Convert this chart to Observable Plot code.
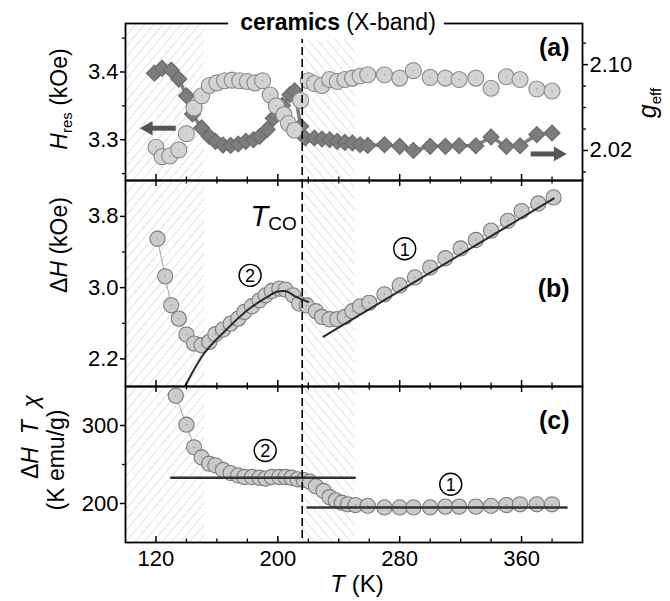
<!DOCTYPE html>
<html>
<head>
<meta charset="utf-8">
<script src="https://cdn.jsdelivr.net/npm/d3@7"></script>
<script src="https://cdn.jsdelivr.net/npm/@observablehq/plot@0.6"></script>
<style>
  html, body { margin: 0; padding: 0; background: #fff; }
  #chart { position: relative; width: 670px; height: 601px; overflow: hidden; background: #fff;
           font-family: "Liberation Sans", Arial, Helvetica, sans-serif; }
  #chart svg { overflow: visible; }
</style>
</head>
<body>
<svg width="0" height="0" style="position:absolute">
  <defs>
    <pattern id="hatchL" patternUnits="userSpaceOnUse" width="7" height="7" patternTransform="rotate(40)">
      <line x1="0" y1="0" x2="0" y2="7" stroke="#c4c4c4" stroke-width="1"></line>
    </pattern>
    <pattern id="hatchR" patternUnits="userSpaceOnUse" width="7" height="7" patternTransform="rotate(-40)">
      <line x1="0" y1="0" x2="0" y2="7" stroke="#c4c4c4" stroke-width="1"></line>
    </pattern>
  </defs>
</svg>
<div id="chart"></div>
<script>
// ---------------- data ----------------
const X_DOMAIN = [100, 400];
const TCO = 216;
const hatchLow = [100, 152];
const hatchHigh = [216, 251];

// panel (a): resonance field H_res (kOe), circles
const T_res = [120,124,129,135,140,145,150,155,160,165,170,175,180,185,190,195,199,204,207,211,215,220,224,229,234,239,244,249,254,259,270,280,289,300,310,319,330,340,350,359,370,380];
const H_res = [3.289,3.275,3.276,3.285,3.309,3.347,3.365,3.380,3.384,3.387,3.388,3.387,3.386,3.384,3.387,3.366,3.350,3.337,3.324,3.314,3.358,3.387,3.383,3.380,3.389,3.386,3.389,3.391,3.394,3.396,3.396,3.391,3.402,3.392,3.391,3.389,3.391,3.376,3.393,3.389,3.375,3.372];
// panel (a): g_eff, diamonds (right axis)
const T_g = [119,124,130,135,140,144,150,155,159,164,169,174,179,184,188,193,197,203,208,211,215,218,224,229,234,239,244,249,254,259,270,280,289,300,310,319,330,340,350,359,370,380];
const g_eff = [2.092,2.0965,2.095,2.0865,2.071,2.054,2.041,2.033,2.0285,2.025,2.0247,2.026,2.0285,2.030,2.033,2.0395,2.050,2.062,2.072,2.0755,2.0426,2.0316,2.0316,2.0307,2.030,2.0285,2.0275,2.027,2.0253,2.0247,2.0253,2.0238,2.020,2.0238,2.0238,2.0244,2.0244,2.0326,2.0238,2.0244,2.0348,2.0363];

// panel (b): linewidth ΔH (kOe)
const T_dH = [121,126,130,135,140,145,150,155,159,164,169,174,178,183,188,192,196,201,205,210,214,219,225,229,234,239,244,249,254,260,270,280,290,300,310,320,330,340,351,360,371,381];
const dH = [3.549,3.127,2.802,2.652,2.473,2.372,2.353,2.391,2.477,2.529,2.596,2.652,2.727,2.791,2.858,2.914,2.963,2.989,2.978,2.914,2.821,2.800,2.735,2.671,2.645,2.645,2.671,2.735,2.790,2.830,2.925,3.025,3.115,3.225,3.330,3.440,3.535,3.640,3.750,3.860,3.945,4.013];
// fit curves in (b)
const T_fit2b = [139,152,166,180,192,200,206,211,220];
const fit2b = [1.89,2.27,2.525,2.746,2.884,2.956,2.957,2.905,2.839];
const T_fit1b = [230, 381];
const fit1b = [2.45, 4.0];

// panel (c): ΔH·T·χ (K emu/g)
const T_chi = [133,140,145,150,155,159,164,169,174,178,183,188,192,196,201,205,209,213,217,221,225,230,234,238,242,246,251,259,270,280,289,300,310,319,330,340,350,359,370,380];
const dHTchi = [338,301,272,259,251,249,243,239,236,234,234,233,232,234,234,234,233,231,230,228,222,216,208,204,201,199,198,197,195,195,195,195,196,196,196,197,198,199,199,199];
const T_fit2c = [130, 250.5];
const fit2c = [233, 233];
const T_fit1c = [219.5, 389.5];
const fit1c = [195, 195];

// axes ticks
const xMajor = [120, 200, 280, 360];
const xMinor = [140, 160, 180, 220, 240, 260, 300, 320, 340, 380];
const H_DOMAIN = [3.2398, 3.4716];
const G_DOMAIN = [1.992, 2.1383];
const yTicksA = [3.3, 3.4];
const yMinorA = [3.25, 3.35, 3.45];
const gTicks = [2.02, 2.10];
const gMinor = [2.00, 2.04, 2.06, 2.08, 2.12];
const DH_DOMAIN = [1.89, 4.203];
const yTicksB = [2.2, 3.0, 3.8];
const yMinorB = [2.6, 3.4];
const CHI_DOMAIN = [150, 350];
const yTicksC = [200, 300];
const yMinorC = [250];

// annotations (data units)
const arrowsA = [
  {T1: 133, T2: 115, H: 3.317, rot: -90},
  {T1: 366, T2: 384, H: 3.279, rot: 90}
];
const circledB = [{T: 181.8, v: 3.138, n: "2"}, {T: 283.3, v: 3.436, n: "1"}];
const circledC = [{T: 191.7, v: 268, n: "2"}, {T: 313.5, v: 224.6, n: "1"}];

// ---------------- helpers ----------------
const FONT = '"Liberation Sans", Arial, Helvetica, sans-serif';
const gToH = g => H_DOMAIN[0] + (g - G_DOMAIN[0]) / (G_DOMAIN[1] - G_DOMAIN[0]) * (H_DOMAIN[1] - H_DOMAIN[0]);
const hToG = h => G_DOMAIN[0] + (h - H_DOMAIN[0]) / (H_DOMAIN[1] - H_DOMAIN[0]) * (G_DOMAIN[1] - G_DOMAIN[0]);
const chart = document.getElementById("chart");

const common = {
  width: 670, marginLeft: 125, marginRight: 88,
  x: {domain: X_DOMAIN, axis: null},
  style: {fontFamily: FONT, fontSize: "22px", overflow: "visible", background: "transparent", color: "#000"}
};
function place(svg, top) {
  svg.style.position = "absolute";
  svg.style.left = "0px";
  svg.style.top = top + "px";
  chart.appendChild(svg);
  return svg;
}
const hatchMarks = () => [
  Plot.rect([hatchLow], {x1: d => d[0], x2: d => d[1], fill: "url(#hatchL)"}),
  Plot.rect([hatchHigh], {x1: d => d[0], x2: d => d[1], fill: "url(#hatchR)"})
];
const dashed = () => Plot.ruleX([TCO], {stroke: "#000", strokeWidth: 1.6, strokeDasharray: "8,4"});
const frame = () => Plot.frame({stroke: "#000", strokeWidth: 1.8});
function xTicks(fh, where) {
  const m = [];
  if (where === "top" || where === "both") {
    m.push(Plot.ruleX(xMajor, {x: d => d, insetBottom: fh - 6, stroke: "#000", strokeWidth: 1.5}));
    m.push(Plot.ruleX(xMinor, {x: d => d, insetBottom: fh - 3.5, stroke: "#000", strokeWidth: 1.3}));
  }
  if (where === "bottom" || where === "both") {
    m.push(Plot.ruleX(xMajor, {x: d => d, insetTop: fh - 6, stroke: "#000", strokeWidth: 1.5}));
    m.push(Plot.ruleX(xMinor, {x: d => d, insetTop: fh - 3.5, stroke: "#000", strokeWidth: 1.3}));
  }
  return m;
}
function yAxis(major, minor, fmt, anchor = "left", map = d => d) {
  return [
    Plot.axisY(major.map(map), {anchor, tickSize: 5, tickPadding: 2, fontSize: 22, tickFormat: fmt, label: null, strokeWidth: 1.5}),
    Plot.axisY(minor.map(map), {anchor, tickSize: 3, tickFormat: () => "", label: null, strokeWidth: 1.3})
  ];
}
function circled(data) {
  return [
    Plot.dot(data, {x: "T", y: "v", r: 11, fill: "#fff", stroke: "#000", strokeWidth: 1.4}),
    Plot.text(data, {x: "T", y: "v", text: "n", fontSize: 18, fill: "#000", dy: 1})
  ];
}

// ---------------- panel (a) ----------------
const resData = T_res.map((t, i) => ({T: t, H: H_res[i]}));
const gData = T_g.map((t, i) => ({T: t, g: g_eff[i]}));
const hA = 180, mtA = 23;
const pa = Plot.plot({
  ...common, height: hA, marginTop: mtA, marginBottom: 0,
  y: {domain: H_DOMAIN, axis: null},
  marks: [
    ...hatchMarks(),
    Plot.line(gData, {x: "T", y: d => gToH(d.g), stroke: "#808080", strokeWidth: 3.5}),
    Plot.dot(gData, {x: "T", y: d => gToH(d.g), symbol: "diamond2", r: 7, fill: "#7d7d7d", stroke: "#6f6f6f"}),
    Plot.dot(resData, {x: "T", y: "H", r: 8, fill: "#d3d3d3", stroke: "#8a8a8a", strokeWidth: 1.1}),
    Plot.dot(resData, {x: "T", y: "H", r: 0.7, fill: "#999"}),
    dashed(),
    Plot.link(arrowsA, {x1: "T1", x2: "T2", y1: "H", y2: "H", stroke: "#555", strokeWidth: 5}),
    Plot.dot(arrowsA, {x: "T2", y: "H", symbol: "triangle2", r: 7, fill: "#555", rotate: "rot"}),
    frame(),
    ...xTicks(hA - mtA, "bottom"),
    ...yAxis(yTicksA, yMinorA, d3.format(".1f")),
    ...yAxis(gTicks, gMinor, d => d3.format(".2f")(hToG(d)), "right", gToH),
    Plot.text(["(a)"], {x: () => 391.5, y: () => 3.436, text: d => d, textAnchor: "end", fontSize: 25, fontWeight: "bold"})
  ]
});
place(pa, 0);

// ---------------- panel (b) ----------------
const dHData = T_dH.map((t, i) => ({T: t, v: dH[i]}));
const fit2bData = T_fit2b.map((t, i) => ({T: t, v: fit2b[i]}));
const fit1bData = T_fit1b.map((t, i) => ({T: t, v: fit1b[i]}));
const hB = 206;
const pb = Plot.plot({
  ...common, height: hB, marginTop: 0, marginBottom: 0,
  y: {domain: DH_DOMAIN, axis: null},
  marks: [
    ...hatchMarks(),
    Plot.line(dHData, {x: "T", y: "v", stroke: "#9a9a9a", strokeWidth: 0.9}),
    Plot.dot(dHData, {x: "T", y: "v", r: 7.6, fill: "#cbcbcb", stroke: "#7c7c7c", strokeWidth: 1.1}),
    Plot.dot(dHData, {x: "T", y: "v", r: 0.7, fill: "#888"}),
    Plot.line(fit2bData, {x: "T", y: "v", stroke: "#2b2b2b", strokeWidth: 2, curve: "catmull-rom", clip: true}),
    Plot.line(fit1bData, {x: "T", y: "v", stroke: "#2b2b2b", strokeWidth: 2}),
    dashed(),
    frame(),
    ...xTicks(hB, "both"),
    ...yAxis(yTicksB, yMinorB, d3.format(".1f")),
    ...circled(circledB),
    Plot.text(["(b)"], {x: () => 391.5, y: () => 2.99, text: d => d, textAnchor: "end", fontSize: 25, fontWeight: "bold"})
  ]
});
place(pb, 180);

// ---------------- panel (c) ----------------
const chiData = T_chi.map((t, i) => ({T: t, v: dHTchi[i]}));
const fit2cData = T_fit2c.map((t, i) => ({T: t, v: fit2c[i]}));
const fit1cData = T_fit1c.map((t, i) => ({T: t, v: fit1c[i]}));
const hC = 215, mbC = 59;
const pc = Plot.plot({
  ...common, height: hC, marginTop: 0, marginBottom: mbC,
  y: {domain: CHI_DOMAIN, axis: null},
  marks: [
    ...hatchMarks(),
    Plot.line(chiData, {x: "T", y: "v", stroke: "#9a9a9a", strokeWidth: 0.9}),
    Plot.dot(chiData, {x: "T", y: "v", r: 7.6, fill: "#cbcbcb", stroke: "#7c7c7c", strokeWidth: 1.1}),
    Plot.dot(chiData, {x: "T", y: "v", r: 0.7, fill: "#888"}),
    Plot.line(fit2cData, {x: "T", y: "v", stroke: "#333", strokeWidth: 2.5}),
    Plot.line(fit1cData, {x: "T", y: "v", stroke: "#333", strokeWidth: 2.5}),
    dashed(),
    frame(),
    ...xTicks(hC - mbC, "both"),
    Plot.axisX(xMajor, {anchor: "bottom", tickSize: 0, tickPadding: 8, fontSize: 22, label: null}),
    ...yAxis(yTicksC, yMinorC, d3.format("d")),
    ...circled(circledC),
    Plot.text(["(c)"], {x: () => 391.5, y: () => 306, text: d => d, textAnchor: "end", fontSize: 25, fontWeight: "bold"})
  ]
});
place(pc, 386);

// ---------------- rich text labels ----------------
function rotLabel(svg, x, y, parts, size) {
  const t = d3.select(svg).append("text")
    .attr("transform", `translate(${x},${y}) rotate(-90)`)
    .attr("text-anchor", "middle")
    .style("font-family", FONT).style("font-size", size + "px").attr("fill", "#000");
  for (const p of parts) {
    const s = t.append("tspan").text(p.t);
    if (p.i) s.attr("font-style", "italic");
    if (p.size) s.style("font-size", p.size + "px");
    if (p.dy) s.attr("dy", p.dy);
  }
  return t;
}
rotLabel(pa, 67, 99, [{t: "H", i: true}, {t: "res", size: 15, dy: 5}, {t: " (kOe)", dy: -5}], 23);
rotLabel(pa, 656, 103, [{t: "g", i: true}, {t: "eff", size: 15, dy: 5}], 25);
rotLabel(pb, 67, 245 - 180, [{t: "Δ"}, {t: "H", i: true}, {t: " (kOe)"}], 23);
rotLabel(pc, 38, 437 - 386, [{t: "Δ"}, {t: "H", i: true}, {t: "  "}, {t: "T", i: true}, {t: "  "}, {t: "χ", i: true}], 23);
rotLabel(pc, 64, 460 - 386, [{t: "(K emu/g)"}], 23);

{
  const t = d3.select(pc).append("text").attr("x", 357).attr("y", 592 - 386).attr("text-anchor", "middle")
    .style("font-family", FONT).style("font-size", "24px").attr("fill", "#000");
  t.append("tspan").attr("font-style", "italic").text("T");
  t.append("tspan").text(" (K)");
}
{
  const sx = pb.scale("x"), sy = pb.scale("y");
  const t = d3.select(pb).append("text").attr("x", sx.apply(TCO) - 5).attr("y", sy.apply(3.69))
    .attr("text-anchor", "end").style("font-family", FONT).style("font-size", "29px").attr("fill", "#000");
  t.append("tspan").attr("font-style", "italic").text("T");
  t.append("tspan").style("font-size", "19px").attr("dy", 4).text("CO");
}
{
  const g = d3.select(pa).append("g");
  const bg = g.append("rect").attr("fill", "#fff");
  const t = g.append("text").attr("x", 338).attr("y", 30).attr("text-anchor", "middle")
    .style("font-family", FONT).style("font-size", "23px").attr("fill", "#000");
  t.append("tspan").attr("font-weight", "bold").text("ceramics");
  t.append("tspan").text(" (X-band)");
  const bb = t.node().getBBox();
  bg.attr("x", bb.x - 12).attr("y", 8).attr("width", bb.width + 20).attr("height", 31);
}
</script>
</body>
</html>
